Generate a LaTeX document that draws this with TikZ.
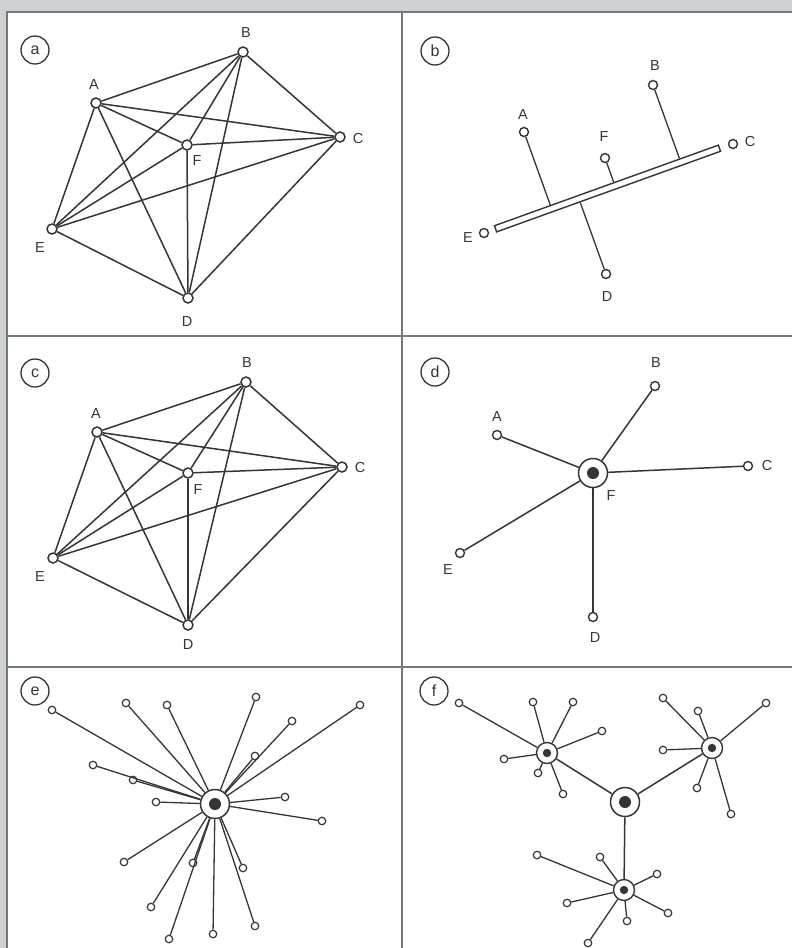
\documentclass[tikz,border=0pt]{standalone}
\usepackage{fontspec}
\setmainfont{Liberation Sans}
\usetikzlibrary{calc}
\definecolor{bggrey}{RGB}{206,208,210}
\definecolor{framec}{RGB}{115,120,122}
\definecolor{inkc}{RGB}{52,54,54}
\begin{document}
\begin{tikzpicture}[x=1pt,y=-1pt,
  wire/.style={draw=inkc, line width=1.5pt},
  thin wire/.style={draw=inkc, line width=1.3pt},
  vtx/.style={circle, draw=inkc, fill=white, line width=1.5pt, inner sep=0pt, minimum size=10pt},
  vsm/.style={vtx, minimum size=9pt, line width=1.4pt},
  leaf/.style={vtx, minimum size=7.5pt, line width=1.2pt},
  lbl/.style={font=\fontsize{14.5}{14.5}\selectfont, text=inkc, inner sep=0pt},
  tag/.style={circle, draw=inkc, line width=1.3pt, minimum size=28pt, inner sep=0pt, font=\fontsize{16}{16}\selectfont, text=inkc},
  hubL/.style={circle, draw=inkc, fill=white, line width=1.5pt, minimum size=29pt, inner sep=0pt,
    path picture={\fill[inkc] (path picture bounding box.center) circle (6pt);}},
  hubS/.style={circle, draw=inkc, fill=white, line width=1.4pt, minimum size=21pt, inner sep=0pt,
    path picture={\fill[inkc] (path picture bounding box.center) circle (4.2pt);}}
]
\useasboundingbox (0,0) rectangle (792,948);
\clip (0,0) rectangle (792,948);
% background and frame
\fill[bggrey] (0,0) rectangle (792,948);
\fill[white] (7,12) rectangle (800,960);
\draw[framec, line width=1.6pt] (7,960) -- (7,12) -- (800,12);
\draw[framec, line width=1.4pt] (402,12) -- (402,960);
\draw[framec, line width=1.4pt] (7,336) -- (800,336);
\draw[framec, line width=1.4pt] (7,667) -- (800,667);

% ---------- panel (a) ----------
\node[tag] (ta) at (35,50) {a};
\node[vtx] (aA) at (96,103) {};
\node[vtx] (aB) at (243,52) {};
\node[vtx] (aC) at (340,137) {};
\node[vtx] (aD) at (188,298) {};
\node[vtx] (aE) at (52,229) {};
\node[vtx] (aF) at (187,145) {};
\foreach \u/\v in {A/B,A/C,A/D,A/E,A/F,B/C,B/D,B/E,B/F,C/D,C/E,C/F,D/E,D/F,E/F}
  \draw[wire] (a\u) -- (a\v);
\node[lbl] (aAl) at (94,85) {A};
\node[lbl] (aBl) at (246,33) {B};
\node[lbl] (aCl) at (358,139) {C};
\node[lbl] (aDl) at (187,322) {D};
\node[lbl] (aEl) at (40,248) {E};
\node[lbl] (aFl) at (197,161) {F};

% ---------- panel (c) ----------
\node[tag] (tc) at (35,373) {c};
\node[vtx] (cA) at (97,432) {};
\node[vtx] (cB) at (246,382) {};
\node[vtx] (cC) at (342,467) {};
\node[vtx] (cD) at (188,625) {};
\node[vtx] (cE) at (53,558) {};
\node[vtx] (cF) at (188,473) {};
\foreach \u/\v in {A/B,A/C,A/D,A/E,A/F,B/C,B/D,B/E,B/F,C/D,C/E,C/F,D/E,D/F,E/F}
  \draw[wire] (c\u) -- (c\v);
\node[lbl] (cAl) at (96,414) {A};
\node[lbl] (cBl) at (247,363) {B};
\node[lbl] (cCl) at (360,468) {C};
\node[lbl] (cDl) at (188,645) {D};
\node[lbl] (cEl) at (40,577) {E};
\node[lbl] (cFl) at (198,490) {F};

% ---------- panel (b) ----------
\node[tag] (tb) at (435,51) {b};
\node[draw=inkc, fill=white, line width=1.4pt, minimum width=238pt, minimum height=6.5pt,
  inner sep=0pt, rotate=19.8] (bbar) at (607.5,188.5) {};
\node[vsm] (bA) at (524,132) {};
\node[vsm] (bB) at (653,85) {};
\node[vsm] (bC) at (733,144) {};
\node[vsm] (bD) at (606,274) {};
\node[vsm] (bE) at (484,233) {};
\node[vsm] (bF) at (605,158) {};
\draw[thin wire] (bA) -- ($(bbar.north west)!(bA)!(bbar.north east)$);
\draw[thin wire] (bF) -- ($(bbar.north west)!(bF)!(bbar.north east)$);
\draw[thin wire] (bB) -- ($(bbar.north west)!(bB)!(bbar.north east)$);
\draw[thin wire] (bD) -- ($(bbar.south west)!(bD)!(bbar.south east)$);
\node[lbl] (bAl) at (523,115) {A};
\node[lbl] (bBl) at (655,66) {B};
\node[lbl] (bCl) at (750,142) {C};
\node[lbl] (bDl) at (607,297) {D};
\node[lbl] (bEl) at (468,238) {E};
\node[lbl] (bFl) at (604,137) {F};

% ---------- panel (d) ----------
\node[tag] (td) at (435,372) {d};
\node[hubL] (dF) at (593,473) {};
\node[vsm] (dA) at (497,435) {};
\node[vsm] (dB) at (655,386) {};
\node[vsm] (dC) at (748,466) {};
\node[vsm] (dD) at (593,617) {};
\node[vsm] (dE) at (460,553) {};
\foreach \v in {A,B,C,D,E}
  \draw[wire] (dF) -- (d\v);
\node[lbl] (dAl) at (497,417) {A};
\node[lbl] (dBl) at (656,363) {B};
\node[lbl] (dCl) at (767,466) {C};
\node[lbl] (dDl) at (595,638) {D};
\node[lbl] (dEl) at (448,570) {E};
\node[lbl] (dFl) at (611,496) {F};

% ---------- panel (e) ----------
\node[tag] (te) at (35,691) {e};
\node[hubL] (eH) at (215,804) {};
\foreach \i/\x/\y in {1/52/710, 2/126/703, 3/167/705, 4/256/697, 5/360/705,
  6/292/721, 7/255/756, 8/93/765, 9/133/780, 10/156/802, 11/285/797, 12/322/821,
  13/124/862, 14/193/863, 15/243/868, 16/151/907, 17/169/939, 18/213/934, 19/255/926}
  \node[leaf] (e\i) at (\x,\y) {};
\foreach \i in {1,...,19}
  \draw[thin wire] (eH) -- (e\i);

% ---------- panel (f) ----------
\node[tag] (tf) at (434,691) {f};
\node[hubL] (fH) at (625,802) {};
\node[hubS] (fP) at (547,753) {};
\node[hubS] (fQ) at (712,748) {};
\node[hubS] (fR) at (624,890) {};
\draw[wire] (fH) -- (fP);
\draw[wire] (fH) -- (fQ);
\draw[wire] (fH) -- (fR);
\foreach \i/\x/\y in {1/459/703, 2/533/702, 3/573/702, 4/602/731, 5/504/759, 6/538/773, 7/563/794}
  {\node[leaf] (fp\i) at (\x,\y) {}; \draw[thin wire] (fP) -- (fp\i);}
\foreach \i/\x/\y in {1/663/698, 2/698/711, 3/766/703, 4/663/750, 5/697/788, 6/731/814}
  {\node[leaf] (fq\i) at (\x,\y) {}; \draw[thin wire] (fQ) -- (fq\i);}
\foreach \i/\x/\y in {1/537/855, 2/600/857, 3/657/874, 4/567/903, 5/668/913, 6/627/921, 7/588/943}
  {\node[leaf] (fr\i) at (\x,\y) {}; \draw[thin wire] (fR) -- (fr\i);}
\end{tikzpicture}
\end{document}
